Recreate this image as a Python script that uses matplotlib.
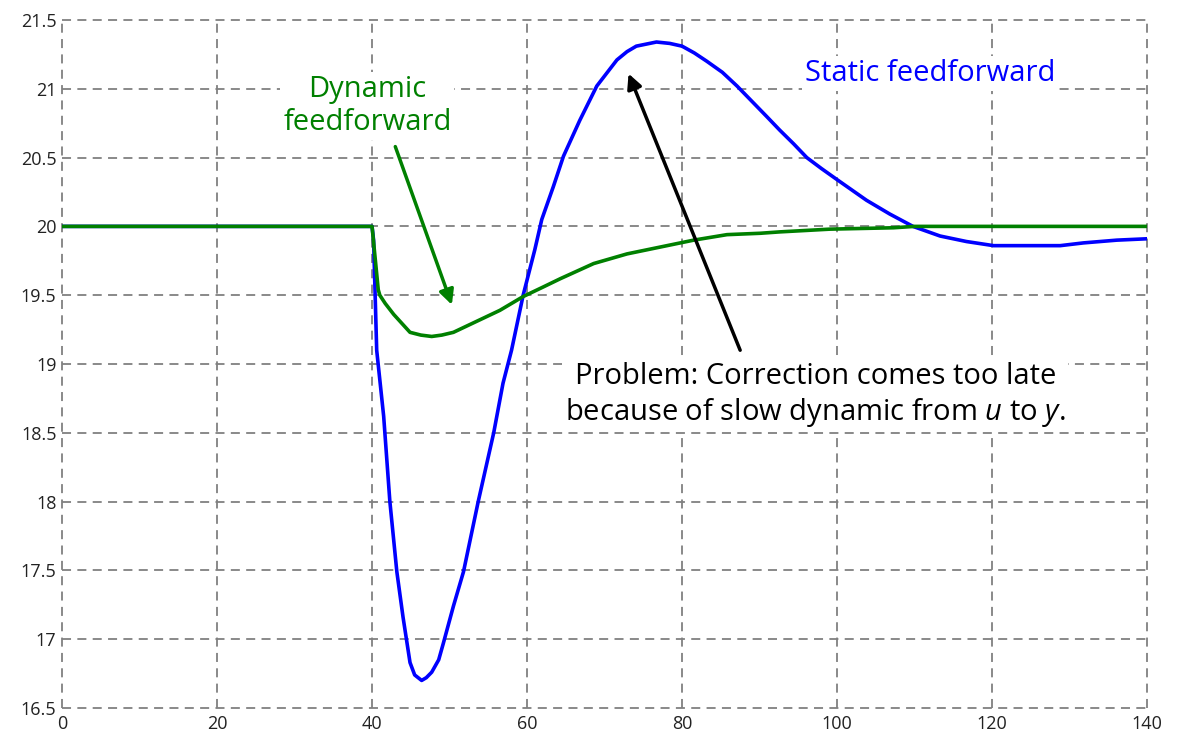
import matplotlib
matplotlib.use("Agg")
import matplotlib.pyplot as plt

plt.rcParams["font.family"] = ["Open Sans", "DejaVu Sans"]
plt.rcParams["mathtext.fontset"] = "custom"
plt.rcParams["mathtext.it"] = "Open Sans:italic"
plt.rcParams["mathtext.rm"] = "Open Sans"

# output y for static feedforward
t_static = [0, 40, 40.2, 40.4, 40.6, 41.5, 42.3, 43.2, 44.0, 44.9, 45.5, 46.4, 47.0,
            47.7, 48.6, 49.2, 50.5, 51.8, 53.7, 55.7, 56.9, 58.0, 59.5, 61.0, 61.9,
            63.4, 64.7, 66.8, 69.0, 71.6, 72.9, 74.1, 76.7, 78.4, 80.0, 81.6, 83.2,
            85.2, 87.1, 89.0, 90.9, 92.6, 94.4, 96.1, 98.0, 100.0, 103.8, 106.8,
            109.8, 113.3, 116.7, 120.2, 128.8, 131.8, 136.1, 140]
y_static = [20.0, 20.0, 19.9, 19.5, 19.1, 18.62, 18.0, 17.49, 17.16, 16.83, 16.74, 16.70,
            16.72, 16.76, 16.85, 16.97, 17.24, 17.49, 18.0, 18.5, 18.86, 19.1, 19.5,
            19.83, 20.05, 20.29, 20.51, 20.77, 21.02, 21.21, 21.27, 21.31, 21.34,
            21.33, 21.31, 21.26, 21.20, 21.12, 21.02, 20.91, 20.80, 20.70, 20.60,
            20.50, 20.42, 20.34, 20.19, 20.09, 20.0, 19.93, 19.89, 19.86, 19.86,
            19.88, 19.90, 19.91]

# output y for dynamic feedforward
t_dynamic = [0, 40, 40.8, 41.0, 41.7, 42.8, 44.9, 46.3, 47.7, 49.0, 50.5, 53.5, 56.5,
             59.5, 62.1, 64.3, 68.6, 72.9, 77.2, 81.5, 85.8, 90.1, 92.6, 99.1, 107.3,
             110, 140]
y_dynamic = [20.0, 20.0, 19.54, 19.50, 19.44, 19.36, 19.23, 19.21, 19.20, 19.21, 19.23,
             19.31, 19.39, 19.49, 19.56, 19.62, 19.73, 19.80, 19.85, 19.90, 19.94,
             19.95, 19.96, 19.98, 19.99, 20.0, 20.0]

x_ticks = [0, 20, 40, 60, 80, 100, 120, 140]
y_ticks = [16.5, 17, 17.5, 18, 18.5, 19, 19.5, 20, 20.5, 21, 21.5]
y_tick_labels = ["16.5", "17", "17.5", "18", "18.5", "19", "19.5", "20", "20.5", "21", "21.5"]

GREEN = "#008000"
BLUE = "#0000ff"

fig = plt.figure(figsize=(11.82, 7.38), dpi=100)
ax = fig.add_axes([0.0525, 0.0407, 0.9179, 0.9322])

ax.plot(t_static, y_static, color=BLUE, lw=2.6, zorder=3, solid_joinstyle="round")
ax.plot(t_dynamic, y_dynamic, color=GREEN, lw=2.6, zorder=4, solid_joinstyle="round")

ax.set_xlim(0, 140)
ax.set_ylim(16.5, 21.5)
ax.set_xticks(x_ticks)
ax.set_yticks(y_ticks)
ax.set_yticklabels(y_tick_labels)
ax.tick_params(length=0, labelsize=13, colors="#222222", pad=4)
ax.tick_params(axis="x", pad=5)
for s in ax.spines.values():
    s.set_visible(False)
ax.grid(True, color="#808080", ls=(0, (5, 3.5)), lw=1.3)
for gl in ax.get_xgridlines() + ax.get_ygridlines():
    gl.set_clip_on(False)
ax.set_axisbelow(True)

box = dict(facecolor="white", edgecolor="none", pad=2)

ax.text(39.4, 20.875, "Dynamic\nfeedforward", color=GREEN, fontsize=21, ha="center",
        va="center", linespacing=1.2, bbox=box, zorder=2)
ax.annotate("", xy=(50.3, 19.43), xytext=(43.0, 20.58),
            arrowprops=dict(arrowstyle="-|>", color=GREEN, lw=2.5, mutation_scale=22,
                            shrinkA=0, shrinkB=0), zorder=5)

ax.text(112, 21.11, "Static feedforward", color=BLUE, fontsize=21, ha="center",
        va="center", bbox=box, zorder=2)

ax.text(97.2, 18.77, "Problem: Correction comes too late\nbecause of slow dynamic from $u$ to $y$.",
        color="black", fontsize=21, ha="center", va="center", linespacing=1.2,
        bbox=box, zorder=2)
ax.annotate("", xy=(73.1, 21.11), xytext=(87.5, 19.10),
            arrowprops=dict(arrowstyle="-|>", color="black", lw=2.5, mutation_scale=22,
                            shrinkA=0, shrinkB=0), zorder=5)

fig.savefig("out.png", dpi=100)
